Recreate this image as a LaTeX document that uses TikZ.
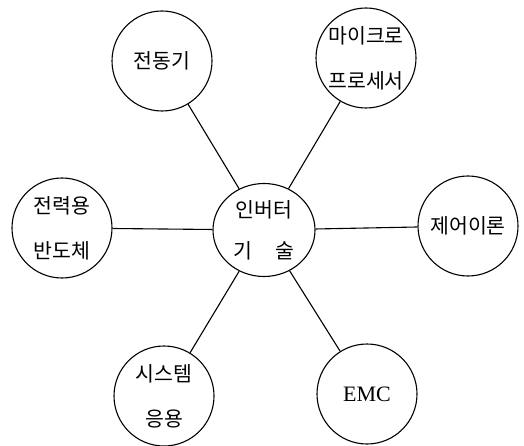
\documentclass[tikz,border=0pt]{standalone}
\usepackage{fontspec}
\setmainfont{Liberation Serif}
\newfontfamily\kor{Noto Sans CJK KR}
\usetikzlibrary{shapes.geometric}
\tikzset{
  topic/.style={draw, circle, line width=1.1pt, minimum size=100pt, inner sep=0pt,
    align=center, font=\kor\fontsize{20.5}{45}\selectfont},
  hub/.style={draw, ellipse, line width=1.1pt, minimum width=102pt, minimum height=93pt,
    inner sep=0pt, align=center, font=\kor\fontsize{20.5}{41}\selectfont},
  link/.style={line width=1.1pt}
}
\begin{document}
\begin{tikzpicture}[x=1pt,y=-1pt]
\useasboundingbox (0,0) rectangle (524,446);
\node[hub] (c) at (264,230) {인버터\\\makebox[3em]{기\hfill 술}};
\node[topic] (m) at (162,61) {전동기};
\node[topic] (p) at (366,58) {마이크로\\프로세서};
\node[topic] (s) at (62,228) {전력용\\반도체};
\node[topic] (t) at (468,226) {제어이론};
\node[topic] (a) at (164,396) {시스템\\응용};
\node[topic, font=\rmfamily\fontsize{22}{26}\selectfont] (e) at (367,394) {EMC};
\foreach \n in {m,p,s,t,a,e} \draw[link] (c) -- (\n);
\end{tikzpicture}
\end{document}
